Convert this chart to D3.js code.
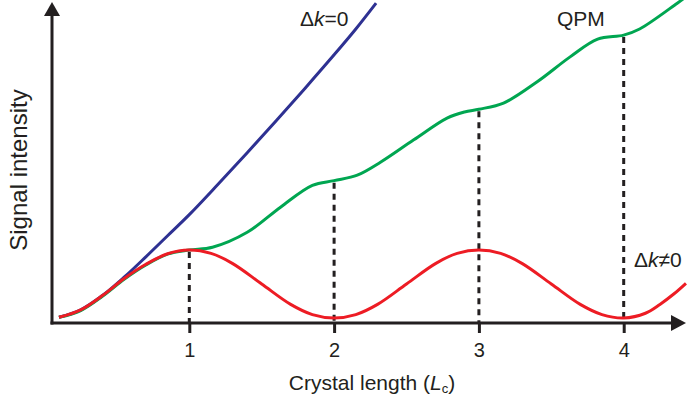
<!DOCTYPE html>
<html>
<head>
<meta charset="utf-8">
<script src="https://cdn.jsdelivr.net/npm/d3@7"></script>
<style>
  body { margin: 0; background: #fff; }
  text { font-family: "Liberation Sans", Arial, sans-serif; fill: #231f20; }
</style>
</head>
<body>
<div id="chart"></div>
<script>
// values (x in units of Lc, y in units of the first red peak)
const tickValues = [1, 2, 3, 4];

// delta k = 0 (blue)
const blueX = [0.1, 0.25, 0.4, 0.55, 0.7, 0.85, 1.0, 1.2, 1.4, 1.6, 1.8, 2.0, 2.15, 2.29];
const blueY = [0.01, 0.12, 0.33, 0.6, 0.9, 1.21, 1.52, 1.97, 2.43, 2.9, 3.38, 3.87, 4.25, 4.63];

// QPM (green)
const qpmX = [0.1, 0.25, 0.4, 0.55, 0.7, 0.85, 1.0, 1.16, 1.4, 1.63, 1.85, 2.0, 2.16, 2.32, 2.55, 2.78, 2.9, 3.0, 3.17, 3.4, 3.63, 3.82, 4.0, 4.11, 4.37, 4.41];
const qpmY = [0.01, 0.11, 0.32, 0.57, 0.78, 0.94, 1.0, 1.04, 1.26, 1.63, 1.95, 2.02, 2.1, 2.29, 2.62, 2.94, 3.03, 3.07, 3.16, 3.47, 3.84, 4.1, 4.16, 4.25, 4.63, 4.69];

// delta k != 0 (red)
const redX = [0.1, 0.25, 0.4, 0.55, 0.7, 0.85, 1.0, 1.15, 1.3, 1.5, 1.7, 1.85, 2.0, 2.15, 2.3, 2.5, 2.7, 2.85, 3.0, 3.15, 3.3, 3.5, 3.7, 3.85, 4.0, 4.15, 4.25, 4.35, 4.43];
const redY = [0.01, 0.12, 0.33, 0.58, 0.79, 0.945, 1.0, 0.95, 0.8, 0.5, 0.2, 0.05, 0.0, 0.05, 0.2, 0.5, 0.8, 0.95, 1.0, 0.95, 0.8, 0.5, 0.2, 0.05, 0.0, 0.07, 0.2, 0.36, 0.51];

const width = 688, height = 403;
const axisColor = "#231f20";
const ox = 52, oy = 323; // where the two axes meet

const svg = d3.select("#chart").append("svg")
  .attr("width", width)
  .attr("height", height);

const x = d3.scaleLinear().domain([0, 4]).range([44.5, 623.7]);
const y = d3.scaleLinear().domain([0, 4.5]).range([318, 12]);

const zip = (xs, ys) => xs.map((v, i) => ({ x: v, y: ys[i] }));
const blue = zip(blueX, blueY);
const qpm = zip(qpmX, qpmY);
const red = zip(redX, redY);

const line = d3.line()
  .x(d => x(d.x))
  .y(d => y(d.y))
  .curve(d3.curveCatmullRom.alpha(0.5));

// dashed drop lines from the QPM curve at each coherence length
svg.append("g")
  .selectAll("line")
  .data(tickValues)
  .enter()
  .append("line")
  .attr("x1", d => x(d))
  .attr("x2", d => x(d))
  .attr("y1", d => y(qpm.find(p => p.x === d).y) + 2)
  .attr("y2", oy)
  .attr("stroke", axisColor)
  .attr("stroke-width", 3)
  .attr("stroke-dasharray", "6,5");

// curves
svg.append("path").datum(blue)
  .attr("d", line).attr("fill", "none")
  .attr("stroke", "#2e3192").attr("stroke-width", 3);
svg.append("path").datum(qpm)
  .attr("d", line).attr("fill", "none")
  .attr("stroke", "#00a651").attr("stroke-width", 3);
svg.append("path").datum(red)
  .attr("d", line).attr("fill", "none")
  .attr("stroke", "#ed1c24").attr("stroke-width", 3);

// axes with arrow heads
svg.append("line")
  .attr("x1", ox).attr("x2", ox).attr("y1", 12).attr("y2", oy + 1.5)
  .attr("stroke", axisColor).attr("stroke-width", 3);
svg.append("line")
  .attr("x1", ox - 1.5).attr("x2", 675).attr("y1", oy).attr("y2", oy)
  .attr("stroke", axisColor).attr("stroke-width", 3);
svg.append("path")
  .attr("d", `M${ox},2 L${ox + 8},16 L${ox - 8},16 Z`)
  .attr("fill", axisColor);
svg.append("path")
  .attr("d", `M686,${oy} L671,${oy - 8} L671,${oy + 8} Z`)
  .attr("fill", axisColor);

const xAxis = d3.axisBottom(x)
  .tickValues(tickValues)
  .tickSize(10)
  .tickPadding(10)
  .tickFormat(d3.format("d"));

const gx = svg.append("g")
  .attr("transform", `translate(0,${oy})`)
  .call(xAxis)
  .attr("font-size", null)
  .attr("font-family", null);
gx.select(".domain").remove();
gx.selectAll(".tick line").attr("stroke", axisColor).attr("stroke-width", 3);
gx.selectAll(".tick text")
  .style("font-size", "20px")
  .attr("fill", axisColor);

// axis titles
svg.append("text")
  .attr("transform", "translate(27,170) rotate(-90)")
  .attr("text-anchor", "middle")
  .attr("font-size", "24px")
  .text("Signal intensity");

const xt = svg.append("text")
  .attr("x", 372).attr("y", 390)
  .attr("text-anchor", "middle")
  .attr("font-size", "21px");
xt.append("tspan").text("Crystal length (");
xt.append("tspan").attr("font-style", "italic").text("L");
xt.append("tspan").attr("font-size", "13px").attr("dy", 3).text("c");
xt.append("tspan").attr("dy", -3).text(")");

// curve labels
const t1 = svg.append("text").attr("x", 300).attr("y", 26).attr("font-size", "21px");
t1.append("tspan").text("Δ");
t1.append("tspan").attr("font-style", "italic").text("k");
t1.append("tspan").text("=0");

svg.append("text").attr("x", 557).attr("y", 26).attr("font-size", "21px").text("QPM");

const t3 = svg.append("text").attr("x", 634).attr("y", 267).attr("font-size", "21px");
t3.append("tspan").text("Δ");
t3.append("tspan").attr("font-style", "italic").text("k");
t3.append("tspan").text("≠0");
</script>
</body>
</html>
